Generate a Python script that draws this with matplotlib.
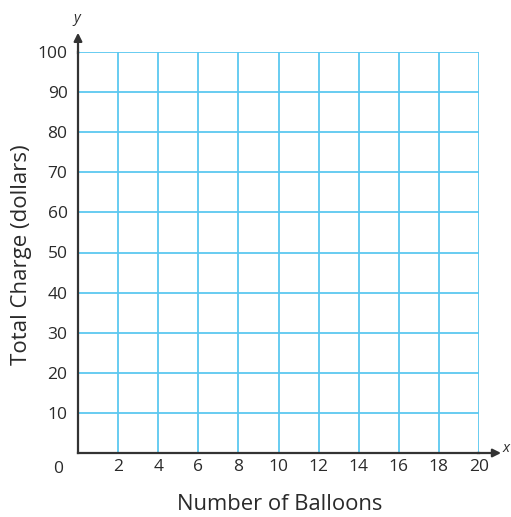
import matplotlib
matplotlib.use("Agg")
import matplotlib.pyplot as plt

x_ticks = [2, 4, 6, 8, 10, 12, 14, 16, 18, 20]
y_ticks = [10, 20, 30, 40, 50, 60, 70, 80, 90, 100]
x_label = "Number of Balloons"
y_label = "Total Charge (dollars)"

plt.rcParams['font.family'] = ['Open Sans', 'DejaVu Sans']
grid_color = '#5cc8f0'
axis_color = '#333333'
text_color = '#2a2a2a'

fig = plt.figure(figsize=(5.11, 5.17), dpi=100)
ax = fig.add_axes([78/511, 64/517, 401/511, 401/517])
ax.set_xlim(0, 20)
ax.set_ylim(0, 100)

for xv in x_ticks:
    ax.axvline(xv, color=grid_color, lw=1.3, zorder=1)
for yv in y_ticks:
    ax.axhline(yv, color=grid_color, lw=1.3, zorder=1)

for s in ['top', 'right']:
    ax.spines[s].set_visible(False)
for s in ['left', 'bottom']:
    ax.spines[s].set_color(axis_color)
    ax.spines[s].set_linewidth(1.6)
    ax.spines[s].set_zorder(3)

ax.set_xticks(x_ticks)
ax.set_yticks(y_ticks)
ax.tick_params(length=0, labelsize=12.5, colors=text_color)
ax.tick_params(axis='x', pad=4)
ax.tick_params(axis='y', pad=7.5)

ax.text(-0.75, -2.0, "0", ha='right', va='top', fontsize=12.5, color=text_color)

ax.annotate('', xy=(21.1, 0), xytext=(19.9, 0), xycoords='data',
            arrowprops=dict(arrowstyle='-|>', color=axis_color, lw=1.6,
                            mutation_scale=12, shrinkA=0, shrinkB=0),
            annotation_clip=False, zorder=4)
ax.annotate('', xy=(0, 104.8), xytext=(0, 99.5), xycoords='data',
            arrowprops=dict(arrowstyle='-|>', color=axis_color, lw=1.6,
                            mutation_scale=12, shrinkA=0, shrinkB=0),
            annotation_clip=False, zorder=4)

fig.text(77/511, 1 - 18/517, "y", ha='center', va='center', fontsize=10.5,
         style='italic', color=text_color)
fig.text(503/511, 1 - 449/517, "x", ha='left', va='center', fontsize=10.5,
         style='italic', color=text_color)

fig.text(280/511, 1 - 505/517, x_label, ha='center', va='center', fontsize=15.8,
         color=text_color)
fig.text(22/511, 1 - 255/517, y_label, ha='center', va='center', fontsize=16,
         rotation=90, color=text_color)

fig.savefig("out.png", dpi=100)
